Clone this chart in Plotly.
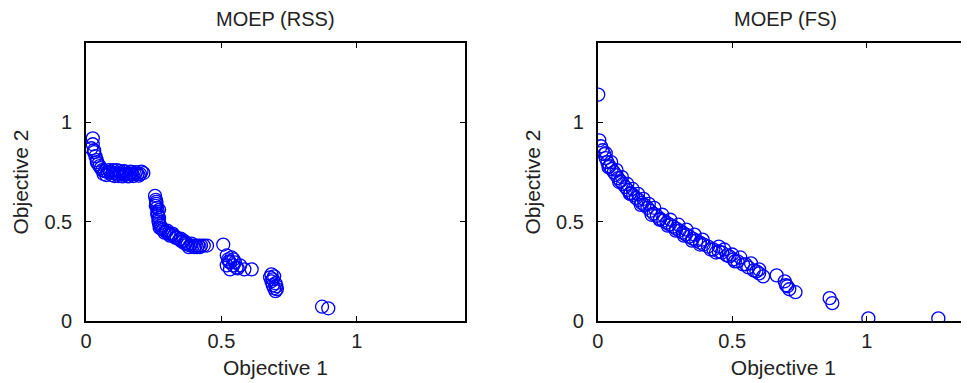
import plotly.graph_objects as go

# ---------------- data ----------------
rss_x = [0.025, 0.025, 0.030, 0.035, 0.040, 0.045, 0.050, 0.030, 0.020, 0.040, 0.055,
         0.060, 0.070, 0.080, 0.090, 0.100, 0.110, 0.120, 0.130, 0.140, 0.150,
         0.160, 0.170, 0.180, 0.190, 0.200, 0.212, 0.100, 0.140, 0.170, 0.120, 0.160,
         0.065, 0.075, 0.085, 0.095, 0.105, 0.115, 0.125, 0.135, 0.145, 0.155,
         0.165, 0.175, 0.185, 0.195, 0.205,
         0.255, 0.258, 0.260, 0.262, 0.265, 0.265, 0.268, 0.270, 0.275, 0.260, 0.270, 0.270,
         0.258, 0.263, 0.268, 0.272, 0.278,
         0.285, 0.295, 0.305, 0.315, 0.325, 0.335, 0.345, 0.355, 0.365, 0.375, 0.385,
         0.395, 0.405, 0.415, 0.425, 0.435, 0.447, 0.300, 0.320, 0.360, 0.390,
         0.290, 0.310, 0.330, 0.350, 0.370, 0.380, 0.400, 0.410, 0.420,
         0.507,
         0.520, 0.532, 0.544, 0.569, 0.520, 0.532, 0.556, 0.545, 0.585, 0.612,
         0.525, 0.538, 0.550, 0.560, 0.528,
         0.680, 0.685, 0.690, 0.695, 0.700, 0.690, 0.700, 0.705, 0.685, 0.695, 0.703,
         0.872, 0.895]
rss_y = [0.920, 0.890, 0.860, 0.830, 0.810, 0.790, 0.780, 0.850, 0.870, 0.800, 0.770,
         0.760, 0.755, 0.750, 0.750, 0.745, 0.745, 0.740, 0.740, 0.740, 0.740,
         0.740, 0.740, 0.740, 0.740, 0.740, 0.745, 0.760, 0.755, 0.750, 0.730, 0.730,
         0.740, 0.735, 0.760, 0.735, 0.730, 0.760, 0.755, 0.728, 0.752, 0.728,
         0.752, 0.730, 0.750, 0.732, 0.752,
         0.630, 0.610, 0.590, 0.570, 0.550, 0.530, 0.510, 0.490, 0.480, 0.600, 0.560, 0.520,
         0.580, 0.540, 0.500, 0.470, 0.465,
         0.460, 0.450, 0.440, 0.435, 0.430, 0.420, 0.410, 0.400, 0.390, 0.385, 0.380,
         0.380, 0.380, 0.380, 0.380, 0.380, 0.380, 0.455, 0.440, 0.405, 0.390,
         0.445, 0.430, 0.420, 0.415, 0.395, 0.372, 0.372, 0.372, 0.372,
         0.385,
         0.330, 0.295, 0.280, 0.280, 0.280, 0.260, 0.270, 0.310, 0.260, 0.260,
         0.310, 0.320, 0.295, 0.265, 0.300,
         0.220, 0.200, 0.180, 0.165, 0.150, 0.210, 0.190, 0.160, 0.235, 0.225, 0.175,
         0.072, 0.064]

fs_x = [0.002, 0.006, 0.012, 0.018, 0.024, 0.030, 0.036, 0.044, 0.052, 0.060,
        0.068, 0.076, 0.085, 0.094, 0.103, 0.112, 0.122, 0.132, 0.142, 0.152,
        0.163, 0.174, 0.185, 0.196, 0.208, 0.220, 0.232, 0.244, 0.256, 0.268,
        0.280, 0.292, 0.304, 0.316, 0.328, 0.340, 0.353, 0.366, 0.380, 0.394,
        0.410, 0.430, 0.450, 0.462, 0.490, 0.505, 0.520, 0.540, 0.560, 0.580,
        0.600, 0.615, 0.665, 0.695, 0.705, 0.712, 0.735, 0.862, 0.872, 1.006, 1.266,
        0.030, 0.050, 0.070, 0.090, 0.110, 0.130, 0.150, 0.170, 0.190, 0.210,
        0.240, 0.270, 0.300, 0.330, 0.360, 0.390, 0.450, 0.470, 0.500, 0.530,
        0.570, 0.600,
        0.040, 0.080, 0.120, 0.160, 0.200, 0.230, 0.260, 0.290, 0.320, 0.350,
        0.380, 0.420, 0.440, 0.480, 0.510, 0.550, 0.590, 0.700]
fs_y = [1.140, 0.910, 0.880, 0.860, 0.840, 0.820, 0.800, 0.780, 0.765, 0.750,
        0.735, 0.720, 0.705, 0.690, 0.675, 0.660, 0.645, 0.635, 0.620, 0.610,
        0.595, 0.585, 0.570, 0.555, 0.540, 0.530, 0.515, 0.505, 0.495, 0.485,
        0.475, 0.465, 0.455, 0.445, 0.435, 0.425, 0.415, 0.405, 0.395, 0.385,
        0.375, 0.360, 0.350, 0.345, 0.325, 0.310, 0.300, 0.285, 0.270, 0.255,
        0.240, 0.225, 0.230, 0.200, 0.175, 0.160, 0.145, 0.115, 0.090, 0.013, 0.013,
        0.845, 0.800, 0.760, 0.725, 0.690, 0.665, 0.640, 0.615, 0.590, 0.570,
        0.535, 0.510, 0.485, 0.460, 0.435, 0.410, 0.375, 0.360, 0.335, 0.320,
        0.290, 0.260,
        0.775, 0.700, 0.640, 0.585, 0.535, 0.510, 0.480, 0.455, 0.430, 0.405,
        0.385, 0.360, 0.345, 0.330, 0.300, 0.285, 0.250, 0.180]

tick_vals = [0, 0.5, 1]
tick_text = ["0", "0.5", "1"]
titles = ["MOEP (RSS)", "MOEP (FS)"]
x_label = "Objective 1"
y_label = "Objective 2"

# ---------------- figure ----------------
OFF = 8                      # page body margin of the html page
W, H = 969 - OFF, 383 - OFF
FONT = "Liberation Sans, Arial, Helvetica, sans-serif"

def px_x(p):                 # screen pixel -> paper x
    return (p - OFF) / W

def px_y(p):                 # screen pixel from top -> paper y
    return 1 - (p - OFF) / H

marker = dict(symbol="circle-open", size=13, color="#0000ff",
              line=dict(width=1.3, color="#0000ff"))

fig = go.Figure()
fig.add_trace(go.Scatter(x=rss_x, y=rss_y, mode="markers", marker=marker,
                         xaxis="x", yaxis="y", showlegend=False))
fig.add_trace(go.Scatter(x=fs_x, y=fs_y, mode="markers", marker=marker,
                         xaxis="x2", yaxis="y2", showlegend=False))

axis_common = dict(
    tickvals=tick_vals, ticktext=tick_text, ticks="inside", ticklen=5,
    tickwidth=1, tickcolor="black", showline=True, linecolor="black",
    linewidth=1.6, showgrid=False, zeroline=False,
    tickfont=dict(family=FONT, size=20, color="#222"),
    title_font=dict(family=FONT, size=21, color="#222"),
    automargin=False,
)

ydom = [px_y(321), px_y(43)]
fig.update_layout(
    width=W, height=H,
    margin=dict(l=0, r=0, t=0, b=0),
    plot_bgcolor="white", paper_bgcolor="white",
    xaxis=dict(axis_common, domain=[px_x(86), px_x(465)], range=[0, 1.4],
               mirror="ticks", anchor="y", ticklabelstandoff=1,
               title=dict(text=x_label, standoff=10)),
    yaxis=dict(axis_common, domain=ydom, range=[0, 1.4], mirror="ticks",
               anchor="x", ticklabelstandoff=8,
               title=dict(text=y_label, standoff=10)),
    xaxis2=dict(axis_common, domain=[px_x(597.7), 1.0], range=[0, 1.38],
                mirror="ticks", anchor="y2", ticklabelstandoff=1,
                title=dict(text=x_label, standoff=10)),
    yaxis2=dict(axis_common, domain=ydom, range=[0, 1.4], mirror=False,
                anchor="x2", ticklabelstandoff=8,
                title=dict(text=y_label, standoff=10)),
)

for txt, cx in zip(titles, [(86 + 465) / 2, (597.7 + 974) / 2]):
    fig.add_annotation(text=txt, x=px_x(cx), y=px_y(19), xref="paper",
                       yref="paper", showarrow=False, xanchor="center",
                       yanchor="middle",
                       font=dict(family=FONT, size=20, color="#222"))

fig.write_html("out.html")
